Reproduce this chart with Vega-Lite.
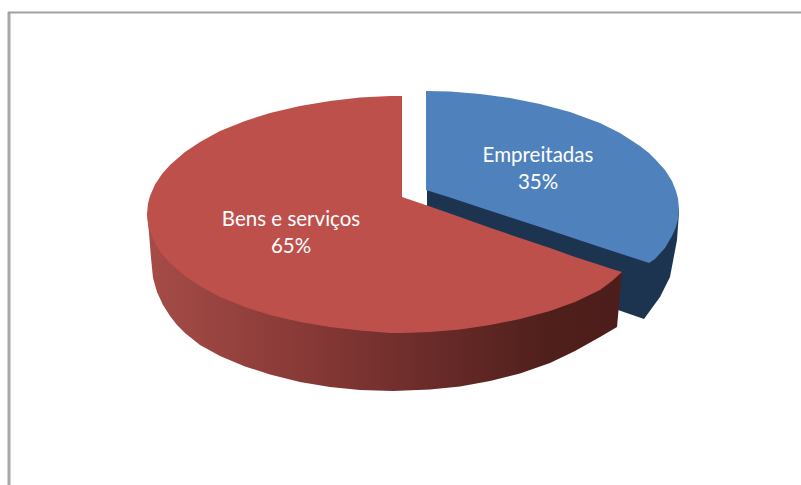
{"$schema":"https://vega.github.io/schema/vega-lite/v6.json","width":801,"height":485,"autosize":{"type":"none"},"padding":0,"background":"white","view":{"stroke":null},
"config":{"axis":{"disable":true},"legend":{"disable":true}},
"datasets":{
"blueSide":[{"x":427,"y":190,"y2":206},{"x":618,"y":205,"y2":310},{"x":644,"y":207,"y2":319},{"x":660,"y":208,"y2":297},{"x":670,"y":209,"y2":277},{"x":677,"y":209,"y2":240},{"x":679,"y":210,"y2":212}],
"blueTop":[{"x":426,"y":91,"y2":190},{"x":450,"y":91.6,"y2":197.6},{"x":480,"y":94,"y2":207.4},{"x":510,"y":98,"y2":217.3},{"x":540,"y":104,"y2":227},{"x":570,"y":112,"y2":237},{"x":600,"y":123,"y2":247},{"x":620,"y":133,"y2":253.5},{"x":640,"y":146,"y2":260},{"x":649,"y":153,"y2":263},{"x":655,"y":159,"y2":259},{"x":665,"y":170,"y2":248},{"x":672,"y":181,"y2":236},{"x":676,"y":191,"y2":227},{"x":678,"y":198.5,"y2":219},{"x":679,"y":209,"y2":209}],
"redSide":[{"x":147,"y":212,"y2":212},{"x":149,"y":212,"y2":233},{"x":151,"y":213,"y2":258},{"x":153,"y":213,"y2":278},{"x":157,"y":213,"y2":292},{"x":163,"y":214,"y2":305},{"x":170,"y":215,"y2":316},{"x":177,"y":216,"y2":325},{"x":185,"y":217,"y2":333},{"x":200,"y":219,"y2":345},{"x":220,"y":221,"y2":356},{"x":245,"y":224,"y2":366.4},{"x":270,"y":228,"y2":374.6},{"x":300,"y":231,"y2":382},{"x":330,"y":235,"y2":387},{"x":360,"y":239,"y2":390},{"x":393,"y":243,"y2":391},{"x":430,"y":248,"y2":389.6},{"x":460,"y":252,"y2":386.4},{"x":490,"y":255,"y2":381},{"x":520,"y":259,"y2":373.5},{"x":550,"y":263,"y2":363},{"x":575,"y":266,"y2":351},{"x":600,"y":269,"y2":337},{"x":617,"y":271,"y2":327},{"x":622,"y":272,"y2":272}],
"redTop":[{"x":147,"y":214,"y2":214},{"x":148,"y":203.5,"y2":224.5},{"x":150,"y":196,"y2":232},{"x":155,"y":184.5,"y2":243.5},{"x":162,"y":174,"y2":254},{"x":170,"y":165,"y2":263},{"x":185,"y":152,"y2":276},{"x":200,"y":142,"y2":286},{"x":220,"y":131,"y2":297},{"x":245,"y":121,"y2":307},{"x":270,"y":113,"y2":315},{"x":300,"y":106,"y2":322},{"x":330,"y":101,"y2":327},{"x":360,"y":97.5,"y2":330.5},{"x":390,"y":96,"y2":333},{"x":402,"y":96,"y2":333},{"x":402,"y":197,"y2":333},{"x":430,"y":206.5,"y2":332},{"x":460,"y":217,"y2":329.5},{"x":490,"y":227.7,"y2":325},{"x":520,"y":238,"y2":319},{"x":550,"y":248,"y2":311},{"x":575,"y":257,"y2":302},{"x":600,"y":265,"y2":290},{"x":612,"y":269,"y2":281},{"x":622,"y":272,"y2":272}],
"labels":[{"x":538,"y":156,"t":"Empreitadas"},{"x":538,"y":183,"t":"35%"},{"x":291,"y":220,"t":"Bens e serviços"},{"x":291,"y":247,"t":"65%"}]
},
"layer":[
{"data":{"values":[{"x":9,"y":12,"y2":485}]},"mark":{"type":"rule","color":"#a8a8a8","strokeWidth":3},"encoding":{"x":{"field":"x","type":"quantitative","scale":{"domain":[0,801]}},"y":{"field":"y","type":"quantitative","scale":{"domain":[485,0]}},"y2":{"field":"y2"}}},
{"data":{"values":[{"x":8,"x2":801,"y":12.5}]},"mark":{"type":"rule","color":"#a0a0a0","strokeWidth":2},"encoding":{"x":{"field":"x","type":"quantitative","scale":{"domain":[0,801]}},"x2":{"field":"x2"},"y":{"field":"y","type":"quantitative","scale":{"domain":[485,0]}}}},
{"data":{"name":"blueSide"},"mark":{"type":"area","color":"#1d3450"},"encoding":{"x":{"field":"x","type":"quantitative","scale":{"domain":[0,801]}},"y":{"field":"y","type":"quantitative","scale":{"domain":[485,0]}},"y2":{"field":"y2"}}},
{"data":{"name":"blueTop"},"mark":{"type":"area","color":"#4f81bd"},"encoding":{"x":{"field":"x","type":"quantitative","scale":{"domain":[0,801]}},"y":{"field":"y","type":"quantitative","scale":{"domain":[485,0]}},"y2":{"field":"y2"}}},
{"data":{"name":"redSide"},"mark":{"type":"area","color":{"gradient":"linear","x1":0,"y1":0,"x2":1,"y2":0,"stops":[{"offset":0,"color":"#a64c48"},{"offset":0.3,"color":"#8b3b38"},{"offset":0.6,"color":"#6a2b29"},{"offset":0.85,"color":"#4f1f1c"},{"offset":1,"color":"#4c1d1a"}]}},"encoding":{"x":{"field":"x","type":"quantitative","scale":{"domain":[0,801]}},"y":{"field":"y","type":"quantitative","scale":{"domain":[485,0]}},"y2":{"field":"y2"}}},
{"data":{"name":"redTop"},"mark":{"type":"area","color":"#be504c"},"encoding":{"x":{"field":"x","type":"quantitative","scale":{"domain":[0,801]}},"y":{"field":"y","type":"quantitative","scale":{"domain":[485,0]}},"y2":{"field":"y2"}}},
{"data":{"name":"labels"},"mark":{"type":"text","color":"white","font":"Lato","fontSize":20.5,"align":"center","baseline":"middle"},"encoding":{"x":{"field":"x","type":"quantitative","scale":{"domain":[0,801]}},"y":{"field":"y","type":"quantitative","scale":{"domain":[485,0]}},"text":{"field":"t"}}}
]}
